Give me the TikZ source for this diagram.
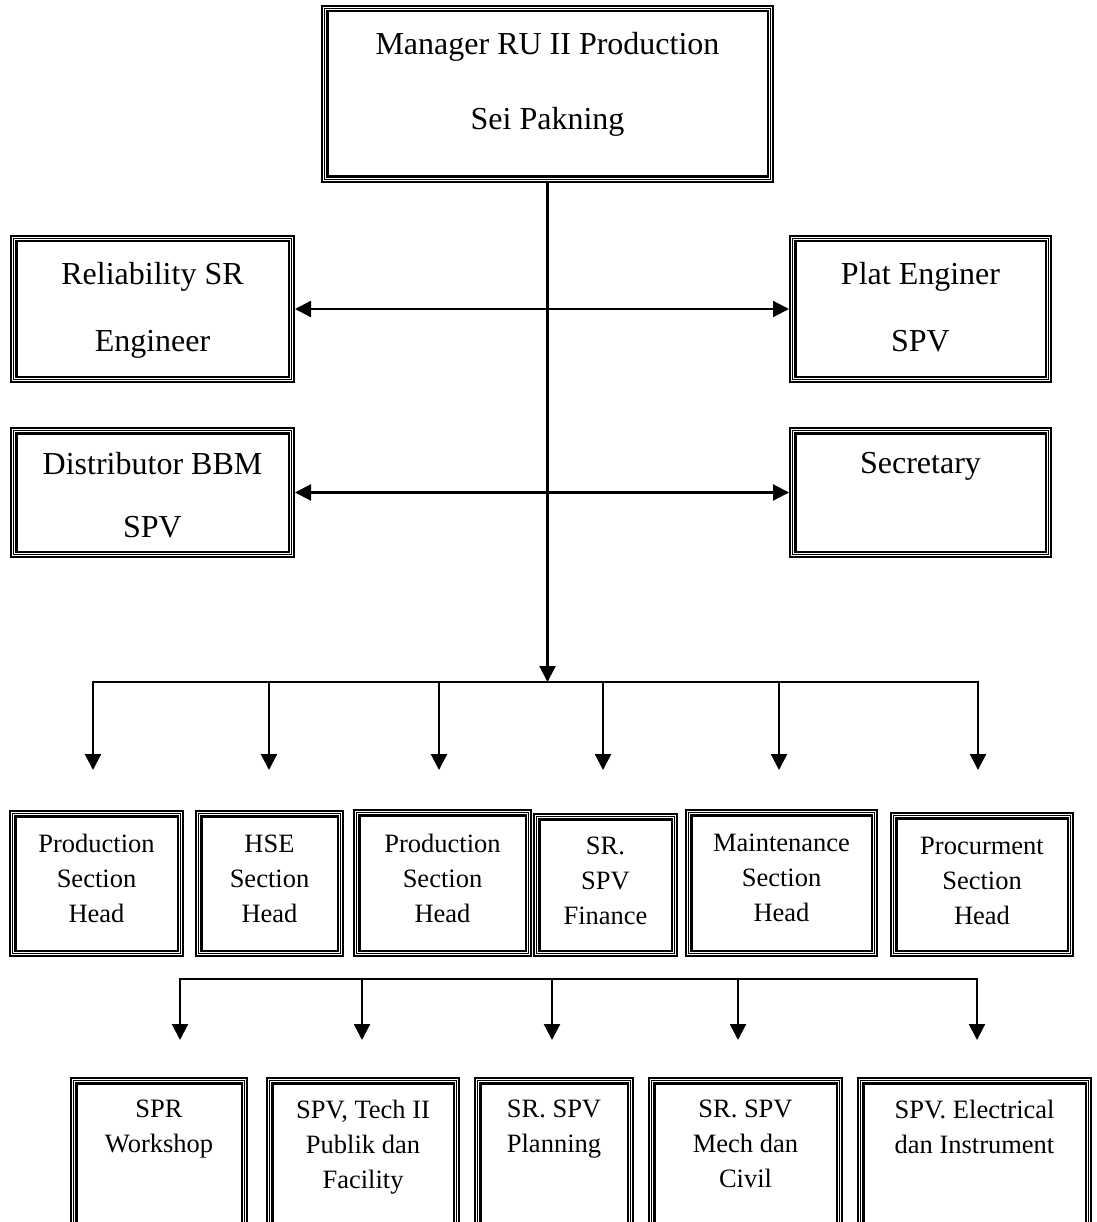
\documentclass[tikz,border=0pt]{standalone}
\usepackage{fontspec}
\setmainfont{Liberation Serif}
\usetikzlibrary{arrows.meta}
\begin{document}
\begin{tikzpicture}[x=1pt,y=-1pt,
  tri/.style={draw=black, line width=7.5pt, inner sep=0pt, outer sep=3.75pt, anchor=north west,
     postaction={draw=white, line width=3.2pt}, postaction={draw=black, line width=1.1pt}},
  ttop/.style={font=\fontsize{32}{75}\selectfont, align=center, inner sep=0pt, anchor=north},
  tbig/.style={font=\fontsize{32}{67}\selectfont, align=center, inner sep=0pt, anchor=north},
  tsmall/.style={font=\fontsize{26.5}{35}\selectfont, align=center, inner sep=0pt, anchor=north},
  tip/.tip={Triangle[length=16pt,width=16pt]},
  conn/.style={line width=2.2pt, -tip},
  biconn/.style={line width=2.2pt, tip-tip},
  plain/.style={line width=2.2pt}
]
\useasboundingbox (0,0) rectangle (1096,1222);
\fill[white] (0,0) rectangle (1096,1222);
\clip (0,0) rectangle (1096,1222);

% ---- boxes ----
\node[tri, minimum width=445.5pt, minimum height=170.5pt] (top)  at (321,5) {};
\node[tri, minimum width=277.5pt, minimum height=140.5pt] (rel)  at (10,235) {};
\node[tri, minimum width=255.5pt, minimum height=140.5pt] (plat) at (789,235) {};
\node[tri, minimum width=277.5pt, minimum height=123.5pt] (dist) at (10,427) {};
\node[tri, minimum width=255.5pt, minimum height=123.5pt] (sec)  at (789,427) {};

\node[tri, minimum width=167.5pt, minimum height=139.5pt] (p1)   at (9,810) {};
\node[tri, minimum width=141.5pt, minimum height=139.5pt] (hse)  at (195,810) {};
\node[tri, minimum width=171.5pt, minimum height=140.5pt] (p2)   at (353,809) {};
\node[tri, minimum width=137.5pt, minimum height=136.5pt] (fin)  at (533,813) {};
\node[tri, minimum width=185.5pt, minimum height=140.5pt] (mnt)  at (685,809) {};
\node[tri, minimum width=176.5pt, minimum height=137.5pt] (proc) at (890,812) {};

\node[tri, minimum width=170.5pt, minimum height=176pt] (spr)  at (70,1077) {};
\node[tri, minimum width=186.5pt, minimum height=176pt] (tech) at (266,1077) {};
\node[tri, minimum width=152.5pt, minimum height=176pt] (plan) at (474,1077) {};
\node[tri, minimum width=187.5pt, minimum height=176pt] (mech) at (648,1077) {};
\node[tri, minimum width=227.5pt, minimum height=176pt] (elec) at (857,1077) {};

% ---- texts ----
\node[ttop] (ttopn) at (547.5,31.7) {Manager RU II Production\\Sei Pakning};
\node[tbig] (trel)  at (152.5,262) {Reliability SR\\Engineer};
\node[tbig] (tplat) at (920.5,262) {Plat Enginer\\SPV};
\node[tbig, font=\fontsize{32}{63}\selectfont] (tdist) at (152.5,452) {Distributor BBM\\SPV};
\node[tbig] (tsec)  at (920.5,452) {Secretary};

\node[tsmall] (tp1)   at (96.5,834.3) {Production\\Section\\Head};
\node[tsmall] (thse)  at (269.5,834.3) {HSE\\Section\\Head};
\node[tsmall] (tp2)   at (442.5,834) {Production\\Section\\Head};
\node[tsmall] (tfin)  at (605.5,836.7) {SR.\\SPV\\Finance};
\node[tsmall] (tmnt)  at (781.5,834) {Maintenance\\Section\\Head};
\node[tsmall] (tproc) at (982,836.7) {Procurment\\Section\\Head};

\node[tsmall] (tspr)  at (159,1100) {SPR\\Workshop};
\node[tsmall] (ttech) at (363,1100) {SPV, Tech II\\Publik dan\\Facility};
\node[tsmall] (tplan) at (554,1100) {SR. SPV\\Planning};
\node[tsmall] (tmech) at (745.5,1100) {SR. SPV\\Mech dan\\Civil};
\node[tsmall] (telec) at (974.5,1100) {SPV. Electrical\\dan Instrument};

% ---- connectors ----
\coordinate (hub) at (547.5,682);
\draw[conn] (top.south) -- (hub);
\draw[biconn] (rel.east) -- (plat.west);
\draw[biconn] (dist.east) -- (sec.west);

\coordinate (b1) at (93,682);   \coordinate (e1) at (93,770);
\coordinate (b2) at (269,682);  \coordinate (e2) at (269,770);
\coordinate (b3) at (439,682);  \coordinate (e3) at (439,770);
\coordinate (b4) at (603,682);  \coordinate (e4) at (603,770);
\coordinate (b5) at (779,682);  \coordinate (e5) at (779,770);
\coordinate (b6) at (978,682);  \coordinate (e6) at (978,770);
\draw[biconn] (e1) -- (b1) -- (b6) -- (e6);
\foreach \i in {2,3,4,5} \draw[conn] (b\i) -- (e\i);

\coordinate (c1) at (180,979);   \coordinate (f1) at (180,1040);
\coordinate (c2) at (362,979);   \coordinate (f2) at (362,1040);
\coordinate (c3) at (552,979);   \coordinate (f3) at (552,1040);
\coordinate (c4) at (738,979);   \coordinate (f4) at (738,1040);
\coordinate (c5) at (977,979);   \coordinate (f5) at (977,1040);
\draw[biconn] (f1) -- (c1) -- (c5) -- (f5);
\foreach \i in {2,3,4} \draw[conn] (c\i) -- (f\i);
\end{tikzpicture}
\end{document}
